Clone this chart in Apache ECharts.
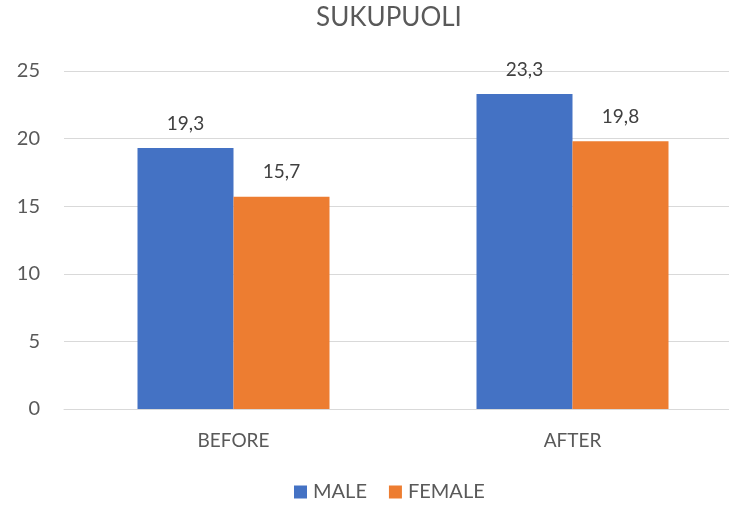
<!DOCTYPE html>
<html>
<head>
<meta charset="utf-8">
<script src="https://cdn.jsdelivr.net/npm/echarts@6/dist/echarts.min.js"></script>
<style>
  html, body { margin: 0; padding: 0; background: #fff; }
  #chart { width: 729px; height: 506px; }
</style>
</head>
<body>
<div id="chart"></div>
<script>
const categories = ['BEFORE', 'AFTER']
const maleValues = [19.3, 23.3]
const femaleValues = [15.7, 19.8]
const seriesNames = ['MALE', 'FEMALE']

const font = 'Lato, "Open Sans", sans-serif'
const grey = '#595959'

const chart = echarts.init(document.getElementById('chart'))

// 数值标签用逗号作小数点
const commaLabel = (p) => String(p.value).replace('.', ',')

const barSeries = (name, data, color) => ({
  name: name,
  type: 'bar',
  data: data,
  barWidth: 96,
  barGap: '0%',
  itemStyle: { color: color },
  label: {
    show: true,
    position: 'top',
    distance: 15,
    formatter: commaLabel,
    color: '#404040',
    fontFamily: font,
    fontSize: 19
  }
})

chart.setOption({
  animation: false,
  title: {
    text: 'SUKUPUOLI',
    left: 384,
    textAlign: 'center',
    top: 0,
    textStyle: { color: grey, fontFamily: font, fontSize: 26, fontWeight: 'normal' }
  },
  legend: {
    data: seriesNames,
    top: 482,
    left: 294,
    padding: 0,
    icon: 'rect',
    itemWidth: 13,
    itemHeight: 13,
    itemGap: 22,
    textStyle: { color: grey, fontFamily: font, fontSize: 20, padding: [0, 0, 0, 1] }
  },
  // 右侧网格超出画布（原图被裁切）
  grid: { left: 64, width: 678, top: 71, height: 338, outerBoundsMode: 'none', containLabel: false },
  xAxis: {
    type: 'category',
    data: categories,
    axisLine: { lineStyle: { color: '#d9d9d9', width: 1 } },
    axisTick: { show: false },
    axisLabel: { color: grey, fontFamily: font, fontSize: 19, margin: 22 }
  },
  yAxis: {
    type: 'value',
    min: 0,
    max: 25,
    interval: 5,
    axisLine: { show: false },
    axisTick: { show: false },
    splitLine: { lineStyle: { color: '#d9d9d9', width: 1 } },
    axisLabel: { color: grey, fontFamily: font, fontSize: 20, margin: 24 }
  },
  series: [
    barSeries(seriesNames[0], maleValues, '#4472C4'),
    barSeries(seriesNames[1], femaleValues, '#ED7D31')
  ]
})
</script>
</body>
</html>
